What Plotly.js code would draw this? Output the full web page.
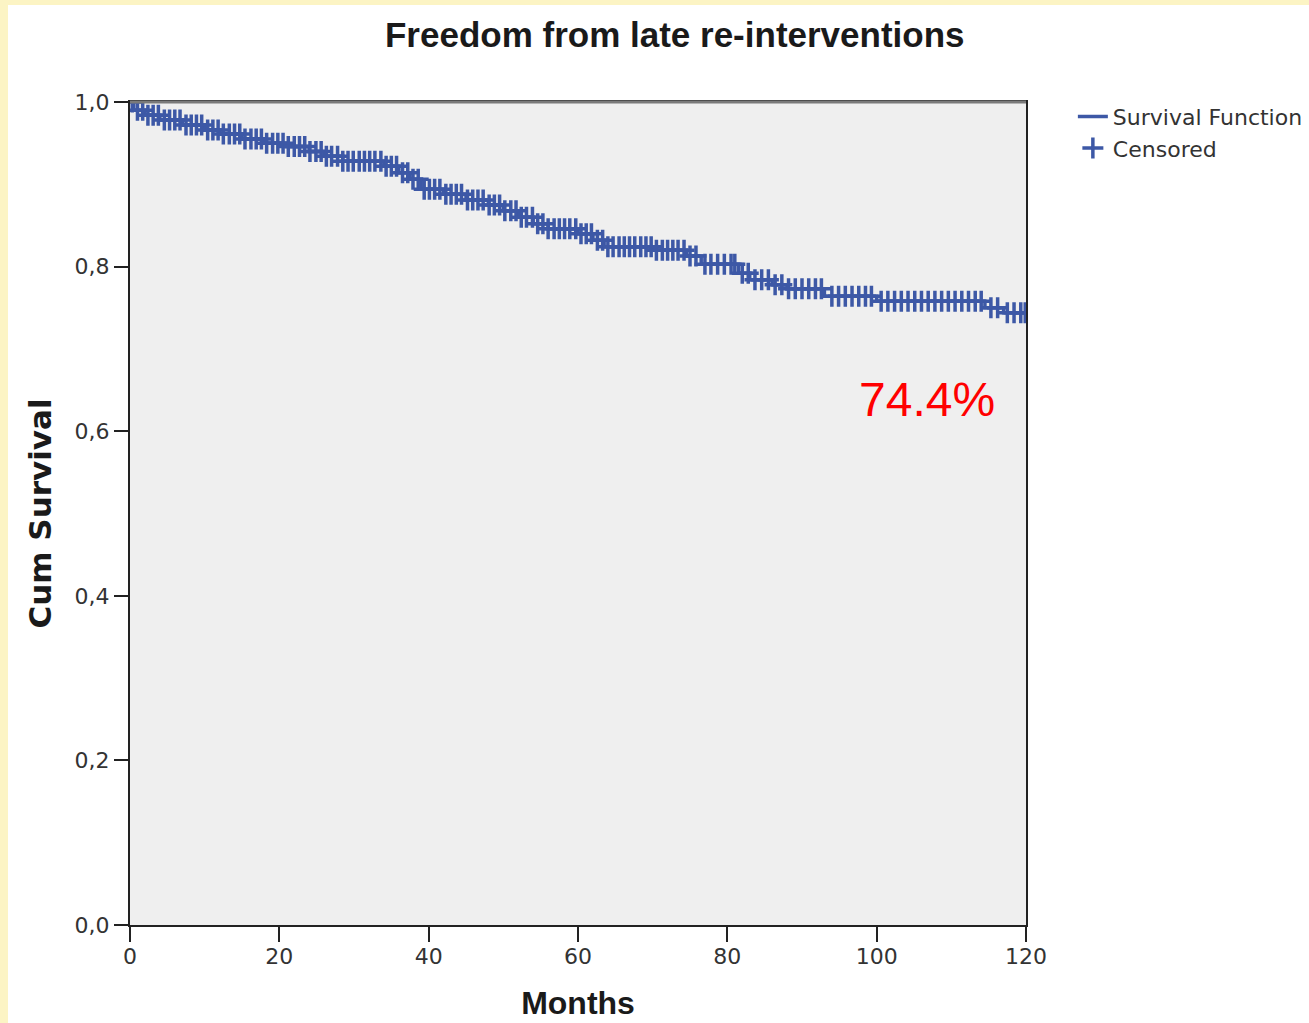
<!DOCTYPE html>
<html>
<head>
<meta charset="utf-8">
<script src="https://cdn.plot.ly/plotly-3.0.1.min.js"></script>
<style>
  html, body { margin: 0; padding: 0; background: #FCF4C4; width: 1309px; height: 1023px; overflow: hidden; }
  #chart { position: absolute; left: 8px; top: 5px; width: 1301px; height: 1018px; background: #ffffff; }
</style>
</head>
<body>
<div id="chart"></div>
<script>
// Step function (event times in months, cumulative survival after event)
const stepTimes = [0, 0.5, 2, 4, 7, 10, 12, 15, 18, 21, 24, 26, 28.5, 34, 36, 37.5, 39, 42, 45, 48, 50, 52, 54, 56, 60, 62, 63.5, 70, 74.5, 76.5, 81.5, 83, 86, 88, 93, 100, 114.5, 117, 120];
const stepSurvival = [1.0, 0.990, 0.984, 0.978, 0.972, 0.966, 0.961, 0.955, 0.950, 0.946, 0.940, 0.934, 0.928, 0.922, 0.914, 0.906, 0.894, 0.888, 0.881, 0.875, 0.868, 0.860, 0.852, 0.846, 0.840, 0.832, 0.824, 0.820, 0.813, 0.803, 0.792, 0.784, 0.778, 0.773, 0.764, 0.758, 0.750, 0.744, 0.744];

// Censored observation times (months)
const censoredTimes = [0.3, 1.0, 1.7, 2.4, 3.1, 3.8, 4.6, 5.3, 6.0, 6.7, 7.5, 8.2, 8.9, 9.6, 10.4, 11.1, 11.8, 12.5, 13.3, 14.0, 14.7, 15.4, 16.2, 16.9, 17.6, 18.3, 19.1, 19.8, 20.5, 21.2, 22.0, 22.7, 23.4, 24.1, 24.9, 25.6, 26.3, 27.0, 27.8, 28.5, 29.2, 29.9, 30.7, 31.4, 32.1, 32.8, 33.6, 34.3, 35.0, 35.7, 36.5, 37.2, 37.9, 38.6, 39.4, 40.1, 40.8, 41.5, 42.3, 43.0, 43.7, 44.4, 45.2, 45.9, 46.6, 47.3, 48.1, 48.8, 49.5, 50.2, 51.0, 51.7, 52.4, 53.1, 53.9, 54.6, 55.3, 56.0, 56.8, 57.5, 58.2, 58.9, 59.7, 60.4, 61.1, 61.8, 62.6, 63.3, 64.0, 64.7, 65.5, 66.2, 66.9, 67.6, 68.4, 69.1, 69.8, 70.5, 71.3, 72.0, 72.7, 73.4, 74.2, 75.0, 75.8, 77.0, 77.8, 78.7, 79.6, 80.5, 81.0, 82.0, 82.8, 83.7, 84.6, 85.5, 86.4, 87.3, 88.2, 89.1, 90.0, 90.9, 91.8, 92.6, 94.0, 94.9, 95.8, 96.7, 97.6, 98.5, 99.3, 100.6, 101.5, 102.4, 103.3, 104.2, 105.1, 106.0, 106.9, 107.8, 108.7, 109.6, 110.5, 111.4, 112.3, 113.2, 114.0, 115.3, 116.2, 117.5, 118.4, 119.3, 119.9];

const xTickVals = [0, 20, 40, 60, 80, 100, 120];
const xTickText = ['0', '20', '40', '60', '80', '100', '120'];
const yTickVals = [0, 0.2, 0.4, 0.6, 0.8, 1.0];
const yTickText = ['0,0', '0,2', '0,4', '0,6', '0,8', '1,0'];

const finalLabel = '74.4%';

// survival value at a censored time, looked up from the step function
function survivalAt(t) {
  let s = stepSurvival[0];
  for (let i = 0; i < stepTimes.length; i++) {
    if (stepTimes[i] <= t) s = stepSurvival[i]; else break;
  }
  return s;
}
const censoredSurvival = censoredTimes.map(survivalAt);

const blue = '#3D58A6';
const tickFont = { family: 'DejaVu Sans, sans-serif', size: 22, color: '#333333' };

const traces = [
  {
    x: stepTimes, y: stepSurvival, mode: 'lines', name: 'Survival Function',
    line: { shape: 'hv', color: blue, width: 3.5 }, hoverinfo: 'x+y'
  },
  {
    x: censoredTimes, y: censoredSurvival, mode: 'markers', name: 'Censored',
    marker: { symbol: 'cross-thin', size: 15, color: blue, line: { color: blue, width: 3.5 } },
    hoverinfo: 'x+y'
  }
];

const layout = {
  width: 1301, height: 1018,
  margin: { l: 122, r: 283, t: 97, b: 98, autoexpand: false },
  paper_bgcolor: '#ffffff',
  plot_bgcolor: '#EFEFEF',
  title: {
    text: '<b>Freedom from late re-interventions</b>',
    font: { family: 'Liberation Sans, Arial, sans-serif', size: 35, color: '#1a1a1a' },
    x: 0.608, xanchor: 'center', y: 0.971, yanchor: 'middle', xref: 'paper'
  },
  xaxis: {
    range: [0, 120], tickvals: xTickVals, ticktext: xTickText,
    showgrid: false, zeroline: false,
    showline: true, linecolor: '#222222', linewidth: 2, mirror: true,
    ticks: 'outside', ticklen: 15, tickwidth: 2, tickcolor: '#222222',
    tickfont: tickFont, automargin: false, ticklabelstandoff: -4,
    title: { text: '<b>Months</b>', font: { family: 'Liberation Sans, Arial, sans-serif', size: 32, color: '#1a1a1a' }, standoff: 23 }
  },
  yaxis: {
    range: [0, 1.0], tickvals: yTickVals, ticktext: yTickText,
    showgrid: false, zeroline: false,
    showline: true, linecolor: '#222222', linewidth: 2, mirror: true,
    ticks: 'outside', ticklen: 14, tickwidth: 2, tickcolor: '#222222',
    tickfont: tickFont, automargin: false,
    title: { text: '<b>Cum Survival</b>', font: { family: 'DejaVu Sans, sans-serif', size: 31, color: '#1a1a1a' }, standoff: 14 }
  },
  legend: {
    xref: 'container', yref: 'container',
    x: 0.8185, xanchor: 'left', y: 0.911, yanchor: 'top',
    font: { family: 'DejaVu Sans, sans-serif', size: 22, color: '#333333' },
    bgcolor: 'rgba(0,0,0,0)', tracegroupgap: 0, itemwidth: 30
  },
  shapes: [
    { type: 'line', xref: 'paper', yref: 'paper', x0: 0, x1: 1, y0: 1, y1: 1, line: { color: '#7A7A7A', width: 3 } }
  ],
  annotations: [
    {
      x: 106.8, y: 0.638, xref: 'x', yref: 'y', text: finalLabel, showarrow: false,
      font: { family: 'Liberation Sans, Arial, sans-serif', size: 48, color: '#FF0000' }
    }
  ],
  showlegend: true
};

Plotly.newPlot('chart', traces, layout, { displayModeBar: false, responsive: false });
</script>
</body>
</html>
